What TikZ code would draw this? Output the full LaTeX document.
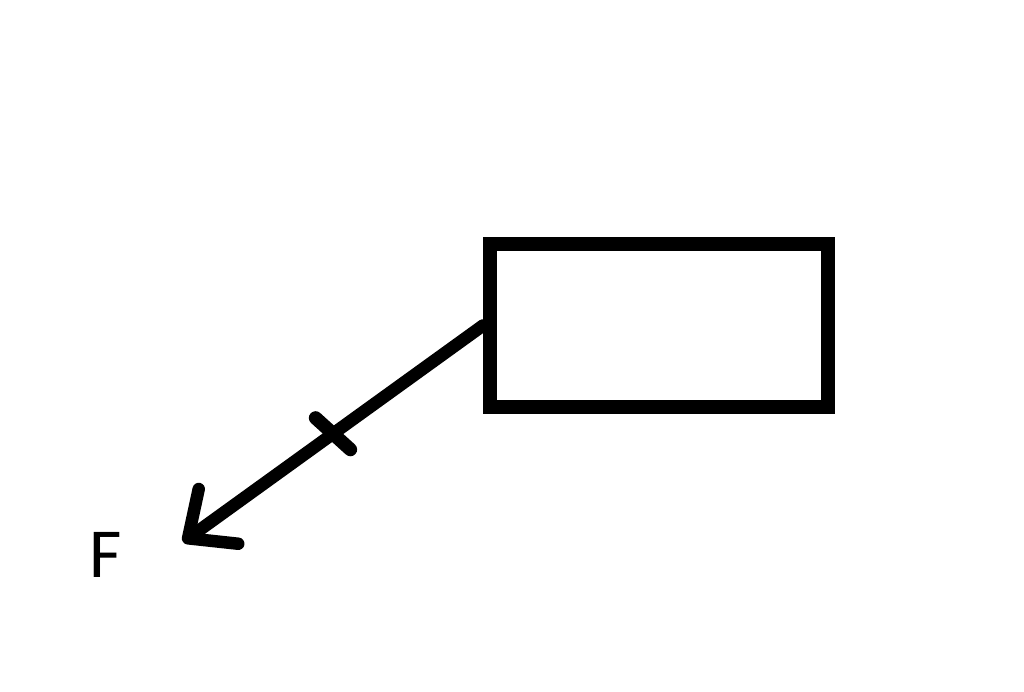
\documentclass[tikz,border=0pt]{standalone}
\usepackage{fontspec}
\setmainfont{Carlito}
\usetikzlibrary{arrows.meta,calc}

\begin{document}
\begin{tikzpicture}[line cap=round]
  \tikzstyle{block}=[draw,line width=0.28cm,minimum width=6.76cm,minimum height=3.26cm,inner sep=0pt];
  \tikzstyle{force}=[line width=0.25cm,-{Straight Barb[length=0.75cm,width=1.35cm,line cap=round,line join=round]}];
  \useasboundingbox (0,0) rectangle (20.48,13.84);

  % box
  \node[block] (box) at (13.18,7.33) {};

  % force
  \coordinate (tip) at (3.66,3.0);
  \draw[force] (box.west) -- coordinate[pos=0.5] (mid) (tip);
  \draw[line width=0.27cm] ($(mid)!0.47cm!102:(tip)$) -- ($(mid)!0.47cm!-78:(tip)$);

  % label
  \node[inner sep=0pt,font=\fontsize{40}{44}\selectfont] (flabel) at (2.12,2.74) {F};
\end{tikzpicture}
\end{document}
